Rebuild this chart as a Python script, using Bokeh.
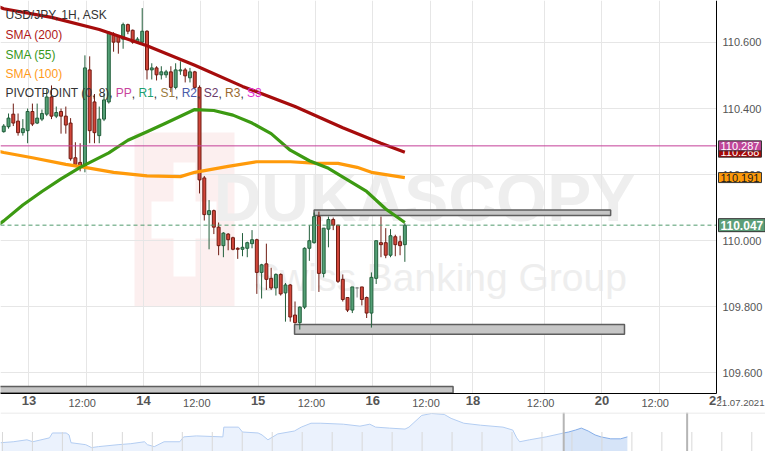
import numpy as np
from bokeh.plotting import figure
from bokeh.models import (Range1d, FixedTicker, PrintfTickFormatter, Span, Label, LinearAxis,
                          LabelSet, ColumnDataSource, BoxAnnotation)
from bokeh.layouts import column
from bokeh.embed import file_html
from bokeh.resources import INLINE
from bokeh.core.properties import value

# ---------------- data ----------------
# hourly bars, first visible bar = 12 Jul 19:00, last = 16 Jul 07:00
bar = list(range(85))
open_ = [110.330, 110.345, 110.383, 110.362, 110.327, 110.333, 110.391, 110.356, 110.368, 110.383,
         110.435, 110.377, 110.391, 110.377, 110.356, 110.251, 110.237, 110.222, 110.517, 110.420,
         110.318, 110.368, 110.420, 110.625, 110.619, 110.610, 110.654, 110.637, 110.601, 110.601,
         110.634, 110.517, 110.523, 110.502, 110.502, 110.511, 110.464, 110.514, 110.517, 110.493,
         110.511, 110.464, 110.190, 110.079, 110.091, 110.041, 109.985, 110.020, 110.009, 109.977,
         109.974, 109.977, 109.991, 110.003, 109.904, 109.930, 109.886, 109.857, 109.898, 109.842,
         109.866, 109.775, 109.752, 109.799, 109.977, 109.994, 110.073, 109.901, 110.035, 110.064,
         110.047, 109.883, 109.828, 109.790, 109.857, 109.860, 109.828, 109.781, 109.886, 109.994,
         109.994, 109.956, 110.012, 109.997, 109.988]
high = [110.353, 110.385, 110.415, 110.385, 110.368, 110.400, 110.415, 110.415, 110.397, 110.458,
        110.470, 110.406, 110.400, 110.406, 110.371, 110.298, 110.295, 110.561, 110.558, 110.444,
        110.406, 110.444, 110.634, 110.631, 110.622, 110.660, 110.657, 110.639, 110.616, 110.704,
        110.637, 110.537, 110.528, 110.528, 110.517, 110.528, 110.537, 110.543, 110.523, 110.523,
        110.514, 110.470, 110.196, 110.123, 110.094, 110.055, 110.026, 110.023, 110.012, 109.980,
        110.023, 109.997, 110.032, 110.006, 109.930, 109.991, 109.918, 109.901, 109.901, 109.872,
        109.869, 109.816, 109.801, 109.980, 110.047, 110.085, 110.088, 110.038, 110.073, 110.070,
        110.047, 109.898, 109.828, 109.860, 109.860, 109.860, 109.831, 109.904, 110.000, 110.073,
        110.038, 110.035, 110.018, 110.015, 110.053]
low = [110.327, 110.339, 110.347, 110.318, 110.318, 110.295, 110.347, 110.353, 110.362, 110.377,
       110.368, 110.371, 110.324, 110.324, 110.242, 110.225, 110.210, 110.207, 110.295, 110.295,
       110.295, 110.362, 110.415, 110.572, 110.566, 110.581, 110.625, 110.596, 110.596, 110.596,
       110.488, 110.488, 110.485, 110.488, 110.493, 110.450, 110.458, 110.502, 110.479, 110.479,
       110.458, 110.143, 110.061, 109.974, 110.020, 109.956, 109.950, 109.971, 109.971, 109.945,
       109.953, 109.950, 109.977, 109.839, 109.825, 109.851, 109.851, 109.834, 109.834, 109.755,
       109.755, 109.749, 109.731, 109.793, 109.939, 109.991, 109.845, 109.889, 109.980, 110.032,
       109.872, 109.816, 109.784, 109.781, 109.828, 109.804, 109.766, 109.737, 109.869, 109.950,
       109.947, 109.950, 109.953, 109.956, 109.936]
close = [110.347, 110.371, 110.356, 110.327, 110.339, 110.391, 110.353, 110.371, 110.385, 110.435,
         110.377, 110.388, 110.377, 110.350, 110.248, 110.231, 110.222, 110.523, 110.333, 110.327,
         110.368, 110.426, 110.631, 110.601, 110.601, 110.654, 110.634, 110.601, 110.610, 110.634,
         110.517, 110.523, 110.502, 110.511, 110.511, 110.464, 110.517, 110.517, 110.499, 110.511,
         110.464, 110.184, 110.079, 110.091, 110.041, 109.985, 110.023, 110.003, 109.974, 109.974,
         109.980, 109.994, 110.003, 109.904, 109.927, 109.883, 109.857, 109.898, 109.839, 109.866,
         109.769, 109.752, 109.799, 109.977, 110.000, 110.073, 109.901, 110.038, 110.064, 110.047,
         109.877, 109.822, 109.790, 109.860, 109.857, 109.822, 109.781, 109.889, 110.000, 109.988,
         109.956, 110.015, 109.988, 109.985, 110.047]

sma200_bar = [-1, 0, 10, 20, 30, 40, 50, 61, 71, 79, 84]
sma200 = [110.708, 110.702, 110.676, 110.639, 110.590, 110.531, 110.467, 110.406, 110.342, 110.295, 110.268]

sma55_bar = [-1, 0, 4, 8, 12, 16, 22, 26, 30, 34, 40, 44, 48, 52, 56, 60, 64, 68, 72, 76, 80, 84]
sma55 = [110.050, 110.060, 110.108, 110.149, 110.187, 110.222, 110.266, 110.304, 110.330, 110.356,
         110.397, 110.394, 110.380, 110.356, 110.324, 110.274, 110.242, 110.219, 110.184, 110.149,
         110.096, 110.055]

sma100_bar = [-1, 0, 6, 13, 17, 23, 30, 37, 40, 47, 53, 60, 65, 70, 74, 77, 84]
sma100 = [110.270, 110.267, 110.251, 110.231, 110.222, 110.207, 110.196, 110.194, 110.207, 110.225,
          110.239, 110.239, 110.235, 110.234, 110.222, 110.207, 110.191]

pivot_pp = 110.287
last_price = 110.047

zone_left = [65.0, 60.9, -1.0]
zone_right = [127.1, 130.0, 94.1]
zone_bottom = [110.076, 109.717, 109.539]
zone_top = [110.093, 109.746, 109.559]

day_ticks = [5.27, 29.27, 53.27, 77.27, 98.27, 125.27, 149.2]
day_labels = ["13", "14", "15", "16", "18", "20", "21"]
half_ticks = [17.27, 41.27, 65.27, 89.27, 113.27, 137.27]
half_label = "12:00"
price_ticks = [109.6, 109.8, 110.0, 110.2, 110.4, 110.6]
x_view = (-0.68, 149.27)        # price pane (left edge .. price axis)
y_view = (109.539, 110.727)     # price pane (time axis .. top)
x_full = (-0.68, 159.53)        # incl. price-axis column
y_full = (109.480, 110.727)     # incl. time-label row
date_text = "21.07.2021"

# navigator (overview) series
nav_pos = [0, 13, 27, 33, 50, 53, 67, 70, 72, 87, 93, 100, 120, 133, 147, 150, 157, 167, 183, 187,
           200, 227, 228, 243, 247, 263, 267, 273, 283, 300, 307, 317, 327, 350, 367, 377, 383, 397,
           413, 417, 430, 440, 453, 460, 473, 490, 513, 523, 527, 530, 540, 557, 575, 580, 587, 593,
           600, 607, 613, 623, 633, 640]
nav_val = [9, 10, 12, 10, 14, 19, 19, 17, 9, 7, 4, 5, 7, 8, 10, 7, 5, 10, 10, 15,
           16, 15, 25, 25, 20, 19, 17, 12, 18, 21, 25, 29, 29, 28, 26, 28, 25, 24,
           23, 25, 37, 39, 38, 34, 29, 27, 25, 22, 14, 10, 12, 15, 19, 20, 22, 24,
           21, 17, 15, 13, 13, 15]
nav_sel_start = 575
nav_handles = [575, 701]
nav_span = (0, 781)

# ---------------- layout / style ----------------
W, H_MAIN, H_NAV = 765, 412, 39
FONT = "Liberation Sans"

p = figure(width=W, height=H_MAIN, x_range=Range1d(*x_full), y_range=Range1d(*y_full),
           output_backend="svg", toolbar_location=None, x_axis_location=None,
           y_axis_location=None, min_border=0)
p.outline_line_color = None
p.background_fill_color = "white"
p.border_fill_color = "white"

p.xgrid.ticker = FixedTicker(ticks=day_ticks + half_ticks)
p.ygrid.ticker = FixedTicker(ticks=price_ticks)
p.xgrid.grid_line_color = "#e6e6e6"
p.ygrid.grid_line_color = "#e6e6e6"

# white cover for the axis column / label row (above grid lines)
p.add_layout(BoxAnnotation(left=x_view[1], fill_color="white", fill_alpha=1.0,
                           line_color=None, level="underlay"))
p.add_layout(BoxAnnotation(top=y_view[0], fill_color="white", fill_alpha=1.0,
                           line_color=None, level="underlay"))

xa = LinearAxis(fixed_location=y_view[0], bounds=x_view,
                ticker=FixedTicker(ticks=day_ticks + half_ticks))
ov = {t: l for t, l in zip(day_ticks, day_labels)}
ov.update({t: "" for t in half_ticks})
xa.major_label_overrides = ov
xa.major_label_text_font = FONT
xa.major_label_text_font_size = "13px"
xa.major_label_text_font_style = "bold"
xa.major_label_text_color = "#555555"
xa.major_label_standoff = 3
xa.major_tick_out = 0
xa.major_tick_in = 0
xa.minor_tick_out = 0
xa.minor_tick_in = 0
xa.axis_line_color = "black"
p.add_layout(xa, "below")

ya = LinearAxis(fixed_location=x_view[1], bounds=y_view,
                ticker=FixedTicker(ticks=price_ticks),
                formatter=PrintfTickFormatter(format="%.3f"))
ya.major_label_text_font = FONT
ya.major_label_text_font_size = "11px"
ya.major_label_text_color = "#555555"
ya.major_label_standoff = 6
ya.major_tick_out = 0
ya.major_tick_in = 0
ya.minor_tick_out = 0
ya.minor_tick_in = 0
ya.axis_line_color = "black"
p.add_layout(ya, "right")

FH = H_MAIN  # frame height (frame fills the canvas)

# watermark logo + text (screen units, frame relative, bottom-up)
for l, r, b, t, c in [(134, 234, FH - 306, FH - 132, "#fcefef"),
                      (173, 195, FH - 276, FH - 162, "white"),
                      (151, 216, FH - 238, FH - 201, "white")]:
    p.add_layout(BoxAnnotation(left=l, right=r, bottom=b, top=t, left_units="screen",
                               right_units="screen", bottom_units="screen", top_units="screen",
                               fill_color=c, fill_alpha=1.0, line_color=None, level="image"))
p.add_layout(Label(x=424, y=FH - 197, x_units="screen", y_units="screen", text="DUKASCOPY",
                   text_align="center", text_baseline="middle", text_font=FONT,
                   text_font_style="bold", text_font_size="66px", text_color="#eeeeee",
                   level="image"))
p.add_layout(Label(x=440, y=FH - 277, x_units="screen", y_units="screen",
                   text="Swiss Banking Group", text_align="center", text_baseline="middle",
                   text_font=FONT, text_font_size="39px", text_color="#eeeeee", level="image"))

# zones
p.quad(left=zone_left, right=zone_right, bottom=zone_bottom, top=zone_top,
       fill_color="#c6c6c6", line_color="#5e5e5e", line_width=1.5)

# candles
fill, edge = [], []
for o, c in zip(open_, close):
    if c > o:
        fill.append("#54a076"); edge.append("#235f3c")
    elif c < o:
        fill.append("#d2463a"); edge.append("#701c13")
    else:
        fill.append("#8c8c8c"); edge.append("#8c8c8c")
src = ColumnDataSource(dict(x=bar, h=high, l=low,
                            top=[max(o, c) for o, c in zip(open_, close)],
                            bottom=[min(o, c) for o, c in zip(open_, close)],
                            fill=fill, edge=edge))
p.segment(x0="x", y0="h", x1="x", y1="l", source=src, line_color="edge", line_width=1)
p.vbar(x="x", width=0.62, top="top", bottom="bottom", source=src,
       fill_color="fill", line_color="edge", line_width=1)

# moving averages
p.line(sma100_bar, sma100, line_color="#ff9a0a", line_width=3.2, line_join="round")
p.line(sma55_bar, sma55, line_color="#3c9a12", line_width=3.2, line_join="round")
p.line(sma200_bar, sma200, line_color="#a60c0c", line_width=3.2, line_join="round")

# reference lines (pivot PP and last price), limited to the price pane
p.segment(x0=[x_view[0]], y0=[pivot_pp], x1=[x_view[1]], y1=[pivot_pp],
          line_color="#c43f98", line_width=1)
p.segment(x0=[x_view[0]], y0=[last_price], x1=[x_view[1]], y1=[last_price],
          line_color="#4f9a6c", line_width=1, line_dash="4 3")

# price boxes on the right axis
def price_box(y, bg, fg, size="11px", bold=False, pad=(2, 1)):
    p.add_layout(Label(x=x_view[1], y=y, text=f"{y:.3f}", x_offset=2, text_align="left",
                       text_baseline="middle", text_font=FONT, text_font_size=size,
                       text_font_style="bold" if bold else "normal", text_color=fg,
                       background_fill_color=bg, border_line_color="#333333",
                       border_line_width=1, padding=pad))

price_box(sma200[-1], "#a80808", "white")
price_box(pivot_pp, "#c0469a", "white")
price_box(sma100[-1], "#ff9a0a", "#1a1a1a")
price_box(last_price, "#5c9e78", "white", size="12px", bold=True, pad=(2, 2))

# 12:00 labels and date
hsrc = ColumnDataSource(dict(x=half_ticks, y=[y_view[0]] * len(half_ticks),
                             t=[half_label] * len(half_ticks)))
p.add_layout(LabelSet(x="x", y="y", text="t", source=hsrc, text_align="center",
                      text_baseline="middle", y_offset=-10, x_offset=-4,
                      text_font=value(FONT), text_font_size="11px", text_color="#555555"))
p.add_layout(Label(x=x_view[1], y=y_view[0], text=date_text, x_offset=0, y_offset=-10,
                   text_align="left", text_baseline="middle", text_font=FONT,
                   text_font_size="9.6px", text_color="#555555", background_fill_color="white"))

# legend texts
rows = [FH - v for v in (14.5, 34.8, 54.1, 73.4, 92.7)]
for txt, col, r in [("USD/JPY, 1H, ASK", "#333333", 0), ("SMA (200)", "#b01818", 1),
                    ("SMA (55)", "#38981c", 2), ("SMA (100)", "#ff9a1a", 3)]:
    p.add_layout(Label(x=5, y=rows[r], x_units="screen", y_units="screen", text=txt,
                       text_baseline="middle", text_font=FONT, text_font_size="12px",
                       text_color=col))
pivot_tokens = [("PIVOTPOINT (0, 8),", "#333333", 5), ("PP", "#c8449c", 115.3),
                ("R1", "#20a070", 137.9), ("S1", "#9a7a40", 159.9), ("R2", "#4a5aa8", 181.2),
                ("S2", "#6a3a6a", 203.2), ("R3", "#9a6a30", 224.5), ("S3", "#e030d0", 246.5)]
for txt, col, x in pivot_tokens:
    p.add_layout(Label(x=x, y=rows[4], x_units="screen", y_units="screen", text=txt,
                       text_baseline="middle", text_font=FONT, text_font_size="12px",
                       text_color=col))
for x in (131.3, 153.3, 174.6, 196.6, 217.9, 239.9):
    p.add_layout(Label(x=x, y=rows[4], x_units="screen", y_units="screen", text=",",
                       text_baseline="middle", text_font=FONT, text_font_size="12px",
                       text_color="#333333"))

# ---------------- navigator ----------------
nav = figure(width=W, height=H_NAV, x_range=Range1d(*nav_span), y_range=Range1d(0, 40),
             output_backend="svg", toolbar_location=None, x_axis_location=None,
             y_axis_location=None, min_border=0)
nav.outline_line_color = None
nav.grid.visible = False
a_pos = [x for x in nav_pos if x <= nav_sel_start]
a_val = [v for x, v in zip(nav_pos, nav_val) if x <= nav_sel_start]
b_pos = [x for x in nav_pos if x >= nav_sel_start]
b_val = [v for x, v in zip(nav_pos, nav_val) if x >= nav_sel_start]
nav.varea(x=a_pos, y1=0, y2=a_val, fill_color="#ebf2fd")
nav.varea(x=b_pos, y1=0, y2=b_val, fill_color="#d6e4f8")
nav.line(a_pos, a_val, line_color="#b3cdf2", line_width=1)
nav.line(b_pos, b_val, line_color="#86aee8", line_width=1)
nticks = list(np.arange(2, nav_span[1], 30.6))
nav.segment(x0=nticks, y0=0, x1=nticks, y1=20, line_color="#d8d8d8", line_width=1)
nav.segment(x0=nav_handles, y0=0, x1=nav_handles, y1=40, line_color="#b5b5b5", line_width=2)
nav.add_layout(Span(location=39.5, dimension="width", line_color="#e2e2e2", line_width=1))

layout = column(p, nav, spacing=0)
open("out.html", "w").write(file_html(layout, INLINE))
